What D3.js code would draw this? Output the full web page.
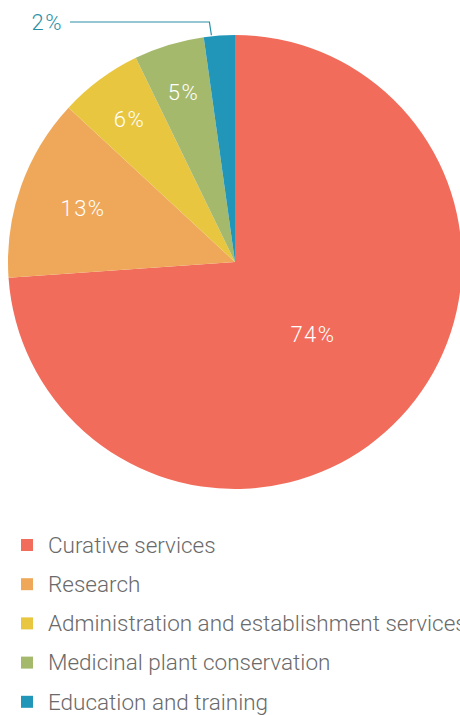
<!DOCTYPE html>
<html>
<head>
<meta charset="utf-8">
<script src="https://cdnjs.cloudflare.com/ajax/libs/d3/7.8.5/d3.min.js"></script>
<style>
  body { margin: 0; background: #fff; }
  svg text { font-family: Roboto, "Noto Sans", sans-serif; font-weight: 300; }
</style>
</head>
<body>
<div id="chart"></div>
<script>
  var categories = ['Curative services', 'Research', 'Administration and establishment services',
                    'Medicinal plant conservation', 'Education and training']
  var values = [73.9, 13.0, 5.9, 5.0, 2.2]
  var labels = ['74%', '13%', '6%', '5%', '2%']
  var colors = ['#f26c5b', '#efa85a', '#e9c640', '#a5b96d', '#2196b9']

  var width = 460, height = 715
  var cx = 235, cy = 262, radius = 227

  var svg = d3.select('#chart').append('svg')
    .attr('width', width)
    .attr('height', height)

  var data = categories.map((c, i) => ({ name: c, value: values[i], label: labels[i], color: colors[i] }))

  var pie = d3.pie().value(d => d.value).sort(null)
  var arcs = pie(data)

  var g = svg.append('g').attr('transform', 'translate(' + cx + ',' + cy + ')')

  g.selectAll('path')
    .data(arcs)
    .enter()
    .append('path')
    .attr('d', d3.arc().innerRadius(0).outerRadius(radius))
    .attr('fill', d => d.data.color)

  // inside labels, bigger slices nearer the centre
  function labelPos(d) {
    var k = d.data.value > 50 ? 0.47 : d.data.value > 10 ? 0.71 : 0.78
    var r = radius * k
    var a = (d.startAngle + d.endAngle) / 2
    return [r * Math.sin(a), -r * Math.cos(a)]
  }

  g.selectAll('text.inner')
    .data(arcs.filter(d => d.data.value >= 4))
    .enter()
    .append('text')
    .attr('class', 'inner')
    .attr('x', d => labelPos(d)[0])
    .attr('y', d => labelPos(d)[1])
    .attr('dy', '0.35em')
    .attr('text-anchor', 'middle')
    .attr('fill', '#fff')
    .style('font-size', '22px')
    .style('letter-spacing', '1.5px')
    .text(d => d.data.label)

  // small slice: label outside with leader line
  arcs.filter(d => d.data.value < 4).forEach(d => {
    var a = d.startAngle + (d.endAngle - d.startAngle) * 0.25
    var x0 = (radius + 1) * Math.sin(a), y0 = -(radius + 1) * Math.cos(a)
    var yTop = 22 - cy
    var xEnd = 70 - cx
    g.append('polyline')
      .attr('points', [[x0, y0], [x0 - 2, yTop], [xEnd, yTop]].map(p => p.join(',')).join(' '))
      .attr('fill', 'none')
      .attr('stroke', '#2a8fa6')
      .attr('stroke-width', 1.2)
    g.append('text')
      .attr('x', xEnd - 7)
      .attr('y', yTop)
      .attr('dy', '0.35em')
      .attr('text-anchor', 'end')
      .attr('fill', '#2a8fa6')
      .style('font-size', '22px')
      .style('letter-spacing', '1.5px')
      .text(d.data.label)
  })

  // legend
  var legend = svg.append('g').attr('transform', 'translate(21,545)')
  var row = legend.selectAll('g')
    .data(data)
    .enter()
    .append('g')
    .attr('transform', (d, i) => 'translate(0,' + (i * 39.2) + ')')

  row.append('rect')
    .attr('x', 0)
    .attr('y', -6)
    .attr('width', 12)
    .attr('height', 12)
    .attr('fill', d => d.color)

  row.append('text')
    .attr('x', 27)
    .attr('y', 0)
    .attr('dy', '0.35em')
    .attr('fill', '#6a6a6a')
    .style('font-size', '22.5px')
    .text(d => d.name)
</script>
</body>
</html>
